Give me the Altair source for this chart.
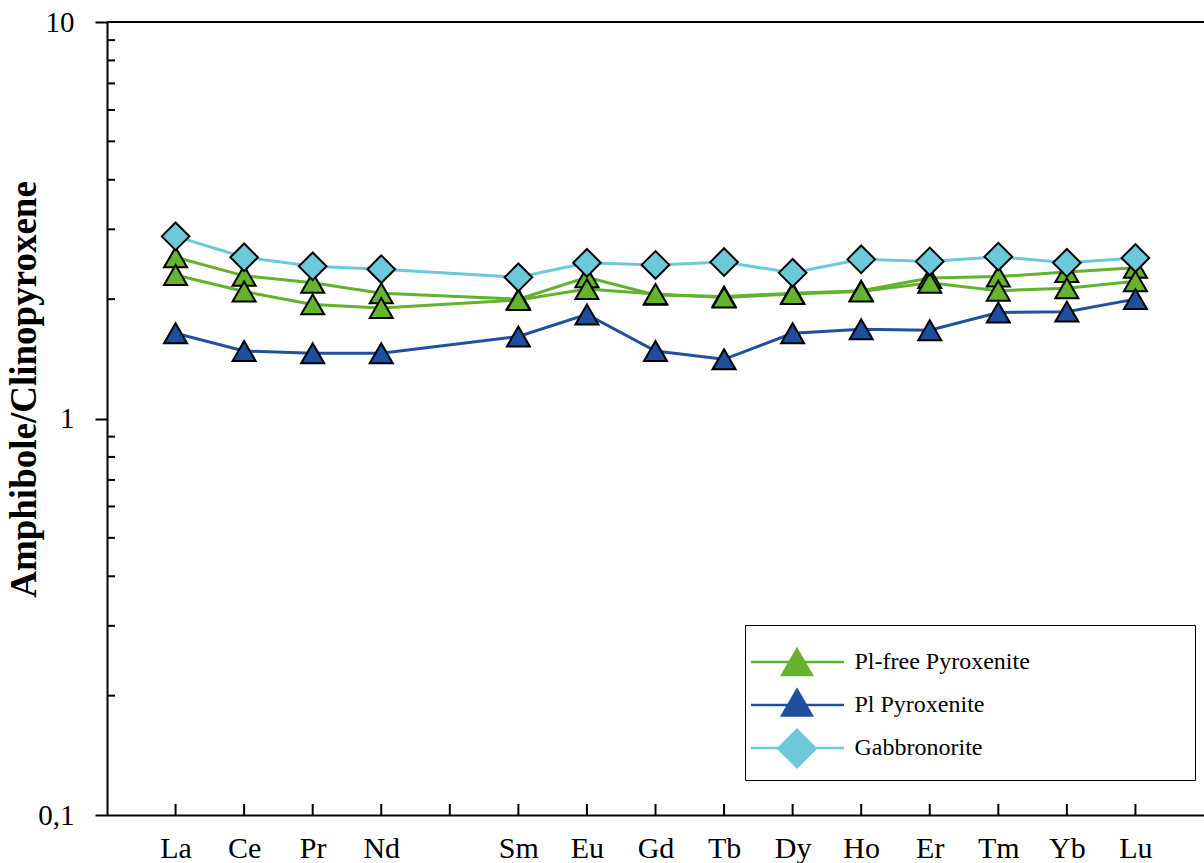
import altair as alt
import pandas as pd

# ---------------- data ----------------
elements = ["La", "Ce", "Pr", "Nd", "Pm", "Sm", "Eu", "Gd", "Tb", "Dy", "Ho", "Er", "Tm", "Yb", "Lu"]
groups = ["Pl-free Pyroxenite", "Pl Pyroxenite", "Gabbronorite"]
group_keys = ["k0", "k1", "k2"]

samples = ["Pl-free Pyroxenite A", "Pl-free Pyroxenite B", "Pl Pyroxenite", "Gabbronorite"]
sample_group = ["Pl-free Pyroxenite", "Pl-free Pyroxenite", "Pl Pyroxenite", "Gabbronorite"]

pl_free_a = [2.55, 2.29, 2.20, 2.07, None, 2.00, 2.27, 2.05, 2.03, 2.07, 2.10, 2.26, 2.28, 2.34, 2.40]
pl_free_b = [2.30, 2.09, 1.94, 1.90, None, 1.99, 2.12, 2.06, 2.02, 2.06, 2.09, 2.20, 2.10, 2.13, 2.22]
pl_pyrox = [1.64, 1.48, 1.46, 1.46, None, 1.61, 1.83, 1.48, 1.41, 1.64, 1.68, 1.67, 1.85, 1.86, 2.00]
gabbro = [2.88, 2.55, 2.42, 2.38, None, 2.27, 2.47, 2.44, 2.48, 2.33, 2.52, 2.49, 2.56, 2.47, 2.54]
series = [pl_free_a, pl_free_b, pl_pyrox, gabbro]

y_major = [0.1, 1, 10]
y_minor = [0.2, 0.3, 0.4, 0.5, 0.6, 0.7, 0.8, 0.9, 2, 3, 4, 5, 6, 7, 8, 9]

line_colors = ["#62b22f", "#22509f", "#6cc9da"]
fill_colors = ["#66b32e", "#1f4e9c", "#6cc9d9"]
shapes = ["triangle-up", "triangle-up", "M-1.2,0L0,-1.2L1.2,0L0,1.2Z"]

FONT = "Liberation Serif"
PW, PH = 1097, 793

rows = []
for s, g, vals in zip(samples, sample_group, series):
    for e, v in zip(elements, vals):
        if v is None:
            continue
        rows.append({"element": e, "value": v, "sample": s, "group": g,
                     "gkey": group_keys[groups.index(g)]})
df = pd.DataFrame(rows)
df_el = pd.DataFrame({"element": elements})
df_minor = pd.DataFrame({"v": y_minor})
df_top = pd.DataFrame({"v": [y_major[-1]]})

xscale = alt.Scale(type="point", domain=elements, padding=1)
yscale = alt.Scale(type="log", domain=[y_major[0], y_major[-1]], nice=False)

x_axis = alt.Axis(ticks=False, domain=True, domainColor="black", domainWidth=2,
                  labelFont=FONT, labelFontSize=30, labelColor="black", labelPadding=18,
                  labelAngle=0, labelExpr="datum.label == 'Pm' ? '' : datum.label",
                  title=None, grid=False)
y_axis = alt.Axis(values=y_major, tickSize=12, tickWidth=2, tickColor="black",
                  domain=True, domainColor="black", domainWidth=2,
                  labelFont=FONT, labelFontSize=29, labelColor="black", labelPadding=21,
                  labelExpr="datum.value < 0.5 ? '0,1' : (datum.value < 5 ? '1' : '10')",
                  grid=False, title="Amphibole/Clinopyroxene", titleFont=FONT,
                  titleFontSize=37, titleFontWeight="bold", titleColor="black",
                  titleX=-72, titleY=367, titleAngle=270, titleAlign="center",
                  titleBaseline="alphabetic")

# legend line symbol: a visible segment plus an invisible zero-length point that widens the frame
legend_lines = alt.Legend(title=None, orient="none", legendX=638, legendY=603,
                          symbolType="M-3,0L3,0M24,0L24,0", symbolSize=961,
                          symbolStrokeWidth=2.5,
                          labelFont=FONT, labelFontSize=24, labelColor="black",
                          labelLimit=800, labelOffset=40, symbolOffset=15.5,
                          padding=20, rowPadding=14, strokeColor="black")
legend_pts = alt.Legend(title=None, orient="none", legendX=638, legendY=601.5,
                        symbolSize=1156, symbolStrokeColor="black", symbolStrokeWidth=2,
                        symbolOpacity=1, labelExpr="''", labelFontSize=24,
                        symbolOffset=14, padding=20, rowPadding=2.5)

# inward x ticks
xticks = alt.Chart(df_el).mark_rule(color="black", strokeWidth=2).encode(
    x=alt.X("element:N", sort=elements, scale=xscale, axis=x_axis),
    y=alt.value(PH), y2=alt.value(PH - 11),
)

# inward minor y ticks
yticks = alt.Chart(df_minor).mark_rule(color="black", strokeWidth=2).encode(
    y=alt.Y("v:Q", scale=yscale, axis=y_axis),
    x=alt.value(0), x2=alt.value(8),
)

topline = alt.Chart(df_top).mark_rule(color="black", strokeWidth=2).encode(
    y=alt.Y("v:Q", scale=yscale, axis=y_axis),
    x=alt.value(0), x2=alt.value(PW),
)

lines = alt.Chart(df).mark_line(strokeWidth=3).encode(
    x=alt.X("element:N", sort=elements, scale=xscale, axis=x_axis),
    y=alt.Y("value:Q", scale=yscale, axis=y_axis),
    color=alt.Color("group:N", scale=alt.Scale(domain=groups, range=line_colors),
                    legend=legend_lines),
    detail="sample:N",
)

points = alt.Chart(df).mark_point(filled=True, size=530, stroke="black",
                                  strokeWidth=2, opacity=1).encode(
    x=alt.X("element:N", sort=elements, scale=xscale, axis=x_axis),
    y=alt.Y("value:Q", scale=yscale, axis=y_axis),
    fill=alt.Fill("gkey:N", scale=alt.Scale(domain=group_keys, range=fill_colors),
                  legend=legend_pts),
    shape=alt.Shape("gkey:N", scale=alt.Scale(domain=group_keys, range=shapes),
                    legend=legend_pts),
)

chart = alt.layer(xticks, yticks, topline, lines, points).properties(
    width=PW, height=PH,
    padding={"left": 107, "top": 22, "right": 0, "bottom": 48},
    autosize=alt.AutoSizeParams(type="none"),
).configure_view(stroke=None).configure(background="white")

chart.save("out.html", embed_options={"renderer": "svg", "actions": False})
